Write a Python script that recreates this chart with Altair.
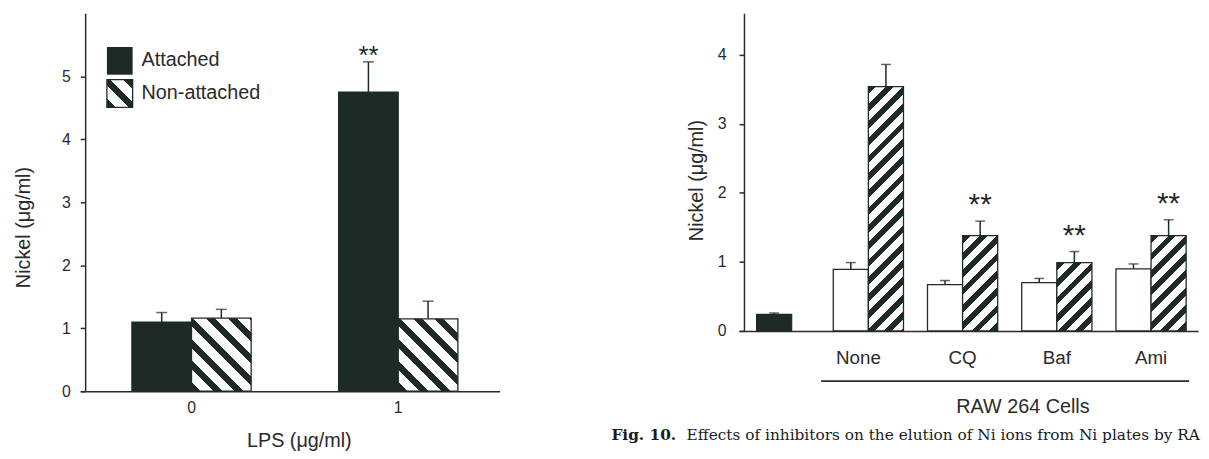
import altair as alt
import pandas as pd

# ---------------- data ----------------
lps_doses = ["0", "0", "1", "1"]
lps_cells = ["Attached", "Non-attached", "Attached", "Non-attached"]
lps_nickel = [1.10, 1.16, 4.75, 1.15]
lps_nickel_err = [1.25, 1.30, 5.23, 1.43]
lps_sig = ["", "", "**", ""]

legend_labels = ["Attached", "Non-attached"]

raw_ctrl_group = ["Control"]
raw_ctrl_nickel = [0.24]
raw_ctrl_err = [0.26]

raw_categories = ["Control", "None", "CQ", "Baf", "Ami"]
raw_groups = ["None", "None", "CQ", "CQ", "Baf", "Baf", "Ami", "Ami"]
raw_series = ["Attached", "Non-attached"] * 4
raw_nickel = [0.89, 3.54, 0.67, 1.38, 0.70, 0.99, 0.90, 1.38]
raw_nickel_err = [0.99, 3.86, 0.73, 1.59, 0.76, 1.15, 0.97, 1.61]
raw_sig = ["", "", "", "**", "", "**", "", "**"]

y_title = "Nickel (\u03bcg/ml)"
lps_title = "LPS (\u03bcg/ml)"
raw_title = "RAW 264 Cells"
caption_bold = ["Fig. 10."]
caption_text = ["Effects of inhibitors on the elution of Ni ions from Ni plates by RA"]

# ---------------- style ----------------
DARK = "#1e2a26"
AX = "#2b2b2b"
TXT = "#2a2a2a"
FONT = "Liberation Sans"

LW, LH, LYMAX = 424, 382, 6
RW, RH, RYMAX = 464, 321, 4.6
L_PI, L_PO, L_AL = 0.423, 0.226, 0.553
R_PI, R_PO, R_AL = 0.255, 0.063, 0.0

l_step = LW / (2 - L_PI + 2 * L_PO)
l_bar = l_step * (1 - L_PI) / 2
r_step = RW / (5 - R_PI + 2 * R_PO)
r_bar = r_step * (1 - R_PI) / 2


def stripes(w, h, period, frac, direction):
    """Linear gradient (bbox units) giving 45-degree stripes of fixed pixel period."""
    n = (w + h) / period
    if direction == "back":
        a, b = w / (w + h), -h / (w + h)
        p1 = (0.0, 1.0)
    else:
        a, b = w / (w + h), h / (w + h)
        p1 = (0.0, 0.0)
    s = a * a + b * b
    p2 = (p1[0] + a / s, p1[1] + b / s)
    stops = []
    k = 0
    while k < n:
        o0 = k / n
        o1 = min((k + frac) / n, 1.0)
        o2 = min((k + 1) / n, 1.0)
        stops += [
            {"offset": o0, "color": DARK},
            {"offset": o1, "color": DARK},
            {"offset": o1, "color": "white"},
            {"offset": o2, "color": "white"},
        ]
        k += 1
    return {"gradient": "linear", "x1": p1[0], "y1": p1[1],
            "x2": p2[0], "y2": p2[1], "stops": stops}


# ---------------- left panel ----------------
ldf = pd.DataFrame(dict(dose=lps_doses, cells=lps_cells, nickel=lps_nickel,
                        err=lps_nickel_err, sig=lps_sig))

lx = alt.X("dose:N",
           scale=alt.Scale(paddingInner=L_PI, paddingOuter=L_PO, align=L_AL),
           axis=alt.Axis(title=lps_title, labelAngle=0, ticks=False, tickSize=0,
                         labelFontSize=16, labelPadding=21, labelBaseline="alphabetic",
                         titleFontSize=20, titleX=221, titleY=56,
                         titleBaseline="alphabetic", domainWidth=1.5))
lxo = alt.XOffset("cells:N", scale=alt.Scale(domain=legend_labels))
L_YSCALE = alt.Scale(domain=[0, LYMAX], nice=False)
L_YAXIS = alt.Axis(title=y_title, values=[0, 1, 2, 3, 4, 5], offset=-5, tickSize=5,
                   labelFontSize=16, labelPadding=10, grid=False, domainWidth=1.5,
                   tickWidth=1.5, titleFontSize=20, titleX=-56, titleY=216,
                   titleBaseline="alphabetic")


def ly(field):
    return alt.Y(f"{field}:Q", scale=L_YSCALE, axis=L_YAXIS)


lbase = alt.Chart(ldf)
left_layers = [
    lbase.transform_filter(alt.datum.cells == "Attached")
    .mark_bar(color=DARK, stroke=DARK, strokeWidth=1.2)
    .encode(x=lx, xOffset=lxo, y=ly("nickel"))
]
for d, c, v in zip(lps_doses, lps_cells, lps_nickel):
    if c != "Non-attached":
        continue
    g = stripes(l_bar, v * LH / LYMAX, 22, 0.42, "back")
    left_layers.append(
        lbase.transform_filter((alt.datum.cells == c) & (alt.datum.dose == d))
        .mark_bar(fill=g, stroke=DARK, strokeWidth=1.3)
        .encode(x=lx, xOffset=lxo, y=ly("nickel"))
    )
left_layers += [
    lbase.mark_rule(color=DARK, strokeWidth=1.5)
    .encode(x=lx, xOffset=lxo, y=ly("nickel"), y2="err:Q"),
    lbase.mark_tick(color=DARK, size=11, thickness=1.5)
    .encode(x=lx, xOffset=lxo, y=ly("err")),
    lbase.transform_filter(alt.datum.sig != "")
    .mark_text(fontSize=26, dy=2, baseline="alphabetic", color=DARK)
    .encode(x=lx, xOffset=lxo, y=ly("err"), text="sig:N"),
]

legend_df = pd.DataFrame({"label": legend_labels})
lg = alt.Chart(legend_df)
left_layers += [
    lg.transform_filter(alt.datum.label == legend_labels[0])
    .mark_rect(color=DARK)
    .encode(x=alt.value(27), x2=alt.value(53), y=alt.value(34), y2=alt.value(62)),
    lg.transform_filter(alt.datum.label == legend_labels[1])
    .mark_rect(fill=stripes(26, 28, 22, 0.42, "back"), stroke=DARK, strokeWidth=1.3)
    .encode(x=alt.value(27), x2=alt.value(53), y=alt.value(67), y2=alt.value(95)),
    lg.transform_filter(alt.datum.label == legend_labels[0])
    .mark_text(align="left", baseline="alphabetic", fontSize=20, color=TXT)
    .encode(text="label:N", x=alt.value(62), y=alt.value(53)),
    lg.transform_filter(alt.datum.label == legend_labels[1])
    .mark_text(align="left", baseline="alphabetic", fontSize=20, color=TXT)
    .encode(text="label:N", x=alt.value(62), y=alt.value(87)),
]

left = alt.layer(*left_layers).properties(width=LW, height=LH)

# ---------------- right panel ----------------
rdf = pd.DataFrame(dict(group=raw_groups, series=raw_series, nickel=raw_nickel,
                        err=raw_nickel_err, sig=raw_sig))
cdf = pd.DataFrame(dict(group=raw_ctrl_group, nickel=raw_ctrl_nickel, err=raw_ctrl_err))

rx = alt.X("group:N",
           scale=alt.Scale(domain=raw_categories, paddingInner=R_PI,
                           paddingOuter=R_PO, align=R_AL),
           axis=alt.Axis(title=None, labelAngle=0, ticks=False, tickSize=0,
                         labelFontSize=19, labelPadding=33, labelBaseline="alphabetic",
                         labelExpr="datum.value == 'Control' ? '' : datum.label",
                         labelOffset={"condition": {"test": "datum.value === 'None'",
                                                    "value": -10}, "value": 0},
                         domainWidth=1.5))
rxo = alt.XOffset("series:N", scale=alt.Scale(domain=legend_labels))
R_YSCALE = alt.Scale(domain=[0, RYMAX], nice=False)
R_YAXIS = alt.Axis(title=y_title, values=[0, 1, 2, 3, 4], offset=-5, tickSize=5,
                   labelFontSize=16, labelPadding=13, grid=False, domainWidth=1.5,
                   tickWidth=1.5, titleFontSize=20, titleX=-42, titleY=168.5,
                   titleBaseline="alphabetic")


def ry(field):
    return alt.Y(f"{field}:Q", scale=R_YSCALE, axis=R_YAXIS)


rbase = alt.Chart(rdf)
cbase = alt.Chart(cdf)
right_layers = [
    cbase.mark_bar(color=DARK, stroke=DARK, strokeWidth=1.2,
                   width=alt.RelativeBandSize(0.5))
    .encode(x=rx, y=ry("nickel")),
    cbase.mark_rule(color=DARK, strokeWidth=1.5).encode(x=rx, y=ry("nickel"), y2="err:Q"),
    cbase.mark_tick(color=DARK, size=10, thickness=1.5).encode(x=rx, y=ry("err")),
    rbase.transform_filter(alt.datum.series == "Attached")
    .mark_bar(color="white", stroke=DARK, strokeWidth=1.3)
    .encode(x=rx, xOffset=rxo, y=ry("nickel")),
]
for gname, s, v in zip(raw_groups, raw_series, raw_nickel):
    if s != "Non-attached":
        continue
    g = stripes(r_bar, v * RH / RYMAX, 17.5, 0.45, "fwd")
    right_layers.append(
        rbase.transform_filter((alt.datum.series == s) & (alt.datum.group == gname))
        .mark_bar(fill=g, stroke=DARK, strokeWidth=1.3)
        .encode(x=rx, xOffset=rxo, y=ry("nickel"))
    )
right_layers += [
    rbase.mark_rule(color=DARK, strokeWidth=1.5)
    .encode(x=rx, xOffset=rxo, y=ry("nickel"), y2="err:Q"),
    rbase.mark_tick(color=DARK, size=10, thickness=1.5)
    .encode(x=rx, xOffset=rxo, y=ry("err")),
    rbase.transform_filter(alt.datum.sig != "")
    .mark_text(fontSize=30, dy=-7, baseline="alphabetic", color=DARK)
    .encode(x=rx, xOffset=rxo, y=ry("err"), text="sig:N"),
]

ann_df = pd.DataFrame({"title": [raw_title], "bold": caption_bold, "text": caption_text})
ann = alt.Chart(ann_df)
right_layers += [
    ann.mark_rule(color=AX, strokeWidth=1.8)
    .encode(x=alt.value(83), x2=alt.value(455), y=alt.value(371.7)),
    ann.mark_text(fontSize=20, align="center", baseline="alphabetic", color=TXT)
    .encode(text="title:N", x=alt.value(287), y=alt.value(404)),
    ann.mark_text(font="DejaVu Serif", fontWeight="bold", fontSize=15.5, align="left",
                  baseline="alphabetic", color="#1a1a1a")
    .encode(text="bold:N", x=alt.value(-129), y=alt.value(431.7)),
    ann.mark_text(font="DejaVu Serif", fontSize=15.5, align="left", baseline="alphabetic",
                  color="#1a1a1a")
    .encode(text="text:N", x=alt.value(-53), y=alt.value(431.7)),
]

right = alt.layer(*right_layers).properties(width=RW, height=RH)

chart = (
    alt.hconcat(left, right, spacing=111)
    .resolve_scale(x="independent", y="independent", xOffset="independent")
    .properties(padding={"top": 2, "left": 5, "right": 0, "bottom": 0})
    .configure(font=FONT)
    .configure_view(stroke="transparent")
    .configure_axis(domainColor=AX, tickColor=AX, labelColor=TXT, titleColor=TXT,
                    titleFontWeight="normal", labelFont=FONT, titleFont=FONT)
)

chart.save("out.html", embed_options={"renderer": "svg", "actions": False})
